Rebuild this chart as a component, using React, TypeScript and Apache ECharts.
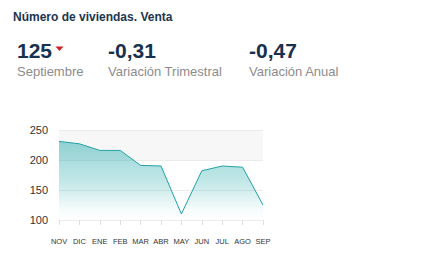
import React, { useEffect, useRef } from "react";
import * as echarts from "echarts";

const months = ["NOV", "DIC", "ENE", "FEB", "MAR", "ABR", "MAY", "JUN", "JUL", "AGO", "SEP"];
const values = [231, 227, 216, 216, 191, 190, 110, 182, 190, 188, 125];
const yTicks = [100, 150, 200, 250];
const title = "Número de viviendas. Venta";
const kpiValues = ["125", "-0,31", "-0,47"];
const kpiLabels = ["Septiembre", "Variación Trimestral", "Variación Anual"];

export default function App() {
  const ref = useRef<HTMLDivElement>(null);
  useEffect(() => {
    if (!ref.current) return;
    const chart = echarts.init(ref.current, null, { renderer: "svg" });
    const font = "Liberation Sans, Arial, Helvetica, sans-serif";
    const kpiX = [17, 108, 249];
    chart.setOption({
      animation: false,
      textStyle: { fontFamily: font },
      graphic: [
        {
          type: "text",
          left: 13,
          top: 11,
          style: { text: title, fontFamily: font, fontSize: 12, fontWeight: "bold", fill: "#1b3550" },
        },
        ...kpiValues.map((v, i) => ({
          type: "text",
          left: kpiX[i],
          top: 40,
          style: { text: v, fontFamily: font, fontSize: 21, fontWeight: "bold", fill: "#17314f" },
        })),
        ...kpiLabels.map((v, i) => ({
          type: "text",
          left: kpiX[i],
          top: 65,
          style: { text: v, fontFamily: font, fontSize: 13, fill: "#8c8c8c" },
        })),
        {
          type: "polygon",
          shape: { points: [[55.5, 46.5], [63.5, 46.5], [59.5, 51]] },
          style: { fill: "#d0202a" },
        },
      ],
      grid: { left: 59, right: 174, top: 130, bottom: 44 },
      xAxis: {
        type: "category",
        data: months,
        boundaryGap: false,
        axisLine: { show: false },
        axisTick: { show: true, length: 5, lineStyle: { color: "#dddddd" } },
        axisLabel: { fontSize: 7.5, color: "#333", margin: 17, interval: 0, fontFamily: font },
      },
      yAxis: {
        type: "value",
        min: yTicks[0],
        max: yTicks[yTicks.length - 1],
        interval: 50,
        axisLine: { show: false },
        axisTick: { show: false },
        axisLabel: { fontSize: 11, color: "#333", margin: 11, fontFamily: font },
        splitLine: { lineStyle: { color: "#ebebeb" } },
        splitArea: { show: true, areaStyle: { color: ["#ffffff", "#ffffff", "#f7f7f7"] } },
      },
      series: [
        {
          type: "line",
          data: values,
          symbol: "none",
          lineStyle: { color: "#22a2a5", width: 1 },
          areaStyle: {
            color: new echarts.graphic.LinearGradient(0, 0, 0, 1, [
              { offset: 0, color: "rgba(34,168,170,0.68)" },
              { offset: 0.5, color: "rgba(34,168,170,0.4)" },
              { offset: 0.88, color: "rgba(34,168,170,0.05)" },
              { offset: 1, color: "rgba(34,168,170,0)" },
            ]),
          },
        },
      ],
    });
    return () => chart.dispose();
  }, []);
  return <div ref={ref} style={{ position: "fixed", left: 0, top: 0, width: 437, height: 264, background: "#fff" }} />;
}
